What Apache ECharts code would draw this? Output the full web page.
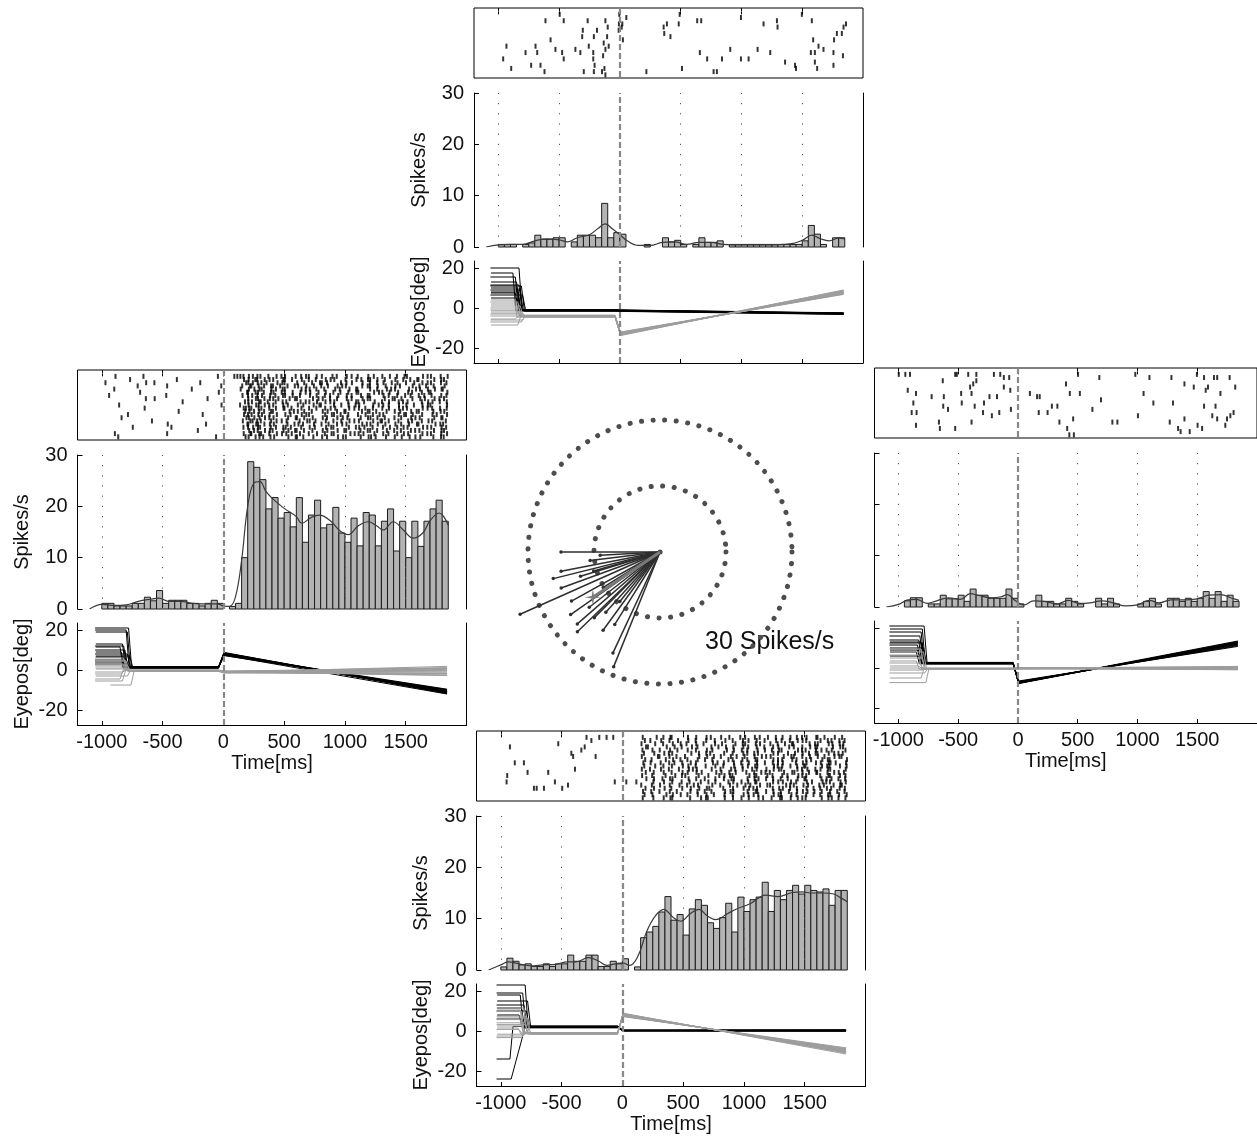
<!DOCTYPE html>
<html><head><meta charset="utf-8">
<script src="https://cdn.jsdelivr.net/npm/echarts@6/dist/echarts.min.js"></script>
<style>html,body{margin:0;padding:0;background:#fff}#c{width:1257px;height:1137px}</style>
</head><body><div id="c"></div>
<script>
// ===== DATA =====
const TIME_TICKS = [-1000, -500, 0, 500, 1000, 1500];
const RATE_TICKS_MAX = 30;
const EYE_TICKS = [-20, 0, 20];
const REF_LINES = [-1000, -500, 500, 1000, 1500];
const BIN_START = -1000, BIN_WIDTH = 50;

// PSTH bars, 50 ms bins from -1000 to 1850 ms (spikes/s)
const HIST_T = [0.5,0.5,0.5,0,0.5,0.8,2.3,1.5,1.5,1.8, 1.8,0,1.0,2.3,2.3,2.3,1.8,8.5,1.8,2.8,
  2.5,0,0,0,0.5,0,0,1.8,1.0,1.3, 0.5,0,0.5,1.8,0.9,0.9,1.2,0,0.5,0.5,
  0.5,0.5,0.5,0.5,0.5,0.5,0.5,0.5,0.5,0.5, 1.2,4.2,2.5,0.5,0,1.8,1.8];
const HIST_L = [1.1,1.1,0.6,0.6,0.6,1.1,1.1,2.3,1.6,3.6, 1.1,1.7,1.7,1.7,1.1,1.1,0.6,1.1,1.7,1.1,
  0,0.5,1.1,10,28.7,27.6,25.2,19.5,21.7,17.7, 18.8,16,21.7,13,18.3,21.2,15.8,16.5,19.8,14.8,
  13,17.7,12.3,18.8,18.3,12.3,17.1,19.5,11.3,17.1, 10,17.1,12.2,17.1,19.5,21.2,17.1];
const HIST_R = [0,1.2,1.8,1.8,0,0.6,0.6,2.3,1.6,1.6, 2.3,1.1,3.5,2.3,2.3,1.7,1.7,1.7,3.5,1.7,
  0.6,0,0,2.3,1.1,1.1,0.6,0.6,1.7,1.1, 0.6,0,0,1.7,0.6,1.7,0.6,0,0,0,
  0.6,1.1,1.7,0.6,0,1.7,1.7,1.1,1.7,1.1, 1.7,3.0,1.7,3.0,1.1,2.3,1.1];
const HIST_B = [0.6,2.3,1.7,1.0,1.2,0.7,0.7,1.2,0.7,1.2, 1.2,2.9,1.7,1.7,2.9,2.9,0.7,0.7,1.7,1.2,
  2.2,0,0.6,6.3,7.4,8.5,11.3,14.3,9.7,10.8, 6.8,11.9,13.7,12.6,9.2,8.1,10.2,13.0,7.4,14.2,
  11.4,13.7,14.2,17.1,11.4,15.5,13.7,15.5,16.5,14.8, 16.5,15.5,15.2,15.8,12.6,15.5,15.5];

// smoothed rate curves [time ms, spikes/s]
const SMOOTH_T = [[-1100,0],[-1000,0.4],[-900,0.5],[-800,0.5],[-700,1.2],[-600,1.6],[-500,1.4],[-430,1.0],[-350,1.8],[-250,2.4],[-180,3.6],[-120,4.5],[-60,3.5],[0,2.4],[60,1.2],[150,0.3],[250,0.3],[350,0.9],[450,1.0],[550,0.5],[650,0.9],[750,0.9],[850,0.5],[1000,0.4],[1200,0.4],[1400,0.6],[1500,1.3],[1580,2.3],[1650,1.6],[1720,1.2],[1800,1.7],[1850,1.6]];
const SMOOTH_L = [[-1100,0],[-1000,0.9],[-900,0.7],[-800,0.8],[-700,1.5],[-600,1.9],[-530,2.1],[-450,1.5],[-350,1.5],[-250,1.1],[-150,1.0],[-50,1.0],[0,0.6],[50,0.5],[100,2.4],[150,9.5],[200,20],[250,24.5],[300,24.8],[350,22.9],[400,21.6],[500,19.6],[600,18],[645,16.7],[720,17.8],[790,18.3],[880,17.2],[960,15.2],[1027,14.5],[1110,16.2],[1192,17],[1260,16.2],[1315,15.4],[1397,17],[1480,15.4],[1562,13.8],[1640,14.8],[1700,17.2],[1775,18.7],[1850,16.3]];
const SMOOTH_R = [[-1100,0],[-1000,0.5],[-920,1.4],[-850,1.5],[-760,0.7],[-680,1.2],[-580,1.8],[-480,1.5],[-400,2.6],[-320,2.2],[-220,1.8],[-140,2.0],[-90,2.4],[-20,1.2],[50,0.4],[130,1.2],[220,1.1],[330,0.6],[420,1.3],[520,0.7],[600,0.8],[700,1.2],[800,0.8],[900,0.2],[1000,0.4],[1100,1.3],[1180,0.8],[1280,1.4],[1400,1.4],[1500,1.6],[1600,2.3],[1700,2.4],[1780,1.8],[1850,1.3]];
const SMOOTH_B = [[-1100,0],[-1000,1.0],[-940,1.6],[-850,1.2],[-750,0.8],[-650,1.0],[-550,1.1],[-450,1.6],[-380,1.6],[-280,2.4],[-200,1.8],[-130,0.9],[-60,1.2],[0,1.4],[60,0.9],[130,2.8],[200,7.5],[270,10.5],[340,11.8],[420,10.2],[480,9.5],[560,11.0],[630,11.8],[700,10.5],[770,9.8],[860,10.9],[930,11.8],[1050,12.9],[1180,14.6],[1280,14.3],[1400,15.1],[1480,15.2],[1560,15.0],[1650,15.0],[1740,14.8],[1800,14.0],[1850,13.3]];

// sparse rasters: [spike time ms, trial]
const RASTER_T = [[-612,2],[-495,0],[-462,2],[-265,2],[-119,2],[53,1],[-305,5],[-188,5],[-100,4],[-10,5],[15,4],[-310,7],[-214,7],[-105,7],[-570,8],[-133,9],[-256,10],[-933,10],[-694,10],[-92,10],[-776,12],[-680,12],[-530,11],[-475,12],[-366,11],[-325,12],[-219,12],[-119,11],[-960,14],[-462,14],[-219,14],[-138,13],[-208,16],[-127,17],[-894,17],[-730,16],[-653,16],[-297,18],[-214,18],[-147,18],[-119,19],[-620,18],[-5,0],[-8,3],[20,3],[25,8],
  [360,4],[387,3],[365,6],[416,7],[492,0],[484,3],[636,2],[669,2],[658,12],[718,14],[840,14],[908,11],[996,1],[996,14],[1059,14],[1133,11],[1182,3],[1237,12],[1292,2],[1297,4],[1359,15],[1441,16],[1449,17],[1497,0],[1579,2],[1571,12],[1590,8],[1604,12],[1634,10],[1675,11],[1757,12],[1762,8],[1785,6],[1826,6],[1840,4],[1860,3],[1604,15],[1623,17],[1757,16],[1835,13],[218,18],[511,17],[771,18],[798,18]];
const RASTER_R = [[-997,0],[-942,0],[-903,0],[-922,5],[-853,6],[-875,9],[-889,12],[-848,12],[-853,16],[-722,7],[-661,15],[-653,17],[-629,2],[-620,7],[-625,10],[-585,11],[-525,0],[-511,0],[-525,17],[-475,6],[-470,9],[-416,0],[-374,3],[-400,4],[-388,6],[-362,10],[-348,0],[-348,2],[-388,15],[-292,12],[-284,9],[-238,7],[-201,0],[-218,13],[-175,7],[-156,12],[-148,0],[-118,4],[-118,1],[-73,1],[-64,5],[-59,11],
  [100,6],[160,7],[182,7],[174,12],[248,12],[284,10],[330,10],[347,15],[402,3],[412,17],[434,6],[462,14],[430,19],[468,19],[503,0],[518,6],[623,11],[681,1],[695,8],[790,15],[832,15],[982,0],[1004,13],[1051,6],[1100,1],[1133,9],[1270,15],[1284,1],[1297,9],[1340,17],[1361,18],[1393,3],[1393,14],[1437,18],[1471,4],[1497,0],[1503,16],[1541,17],[1557,1],[1557,10],[1571,5],[1590,4],[1640,1],[1667,1],[1653,10],[1626,13],[1667,14],[1694,6],[1735,16],[1749,14],[1771,1],[1804,12],[1818,4],[1777,13]];

// dense rasters: one string per trial, 100 ms groups from -1100 ms;
// inside a group each character is a 25 ms slot ('.' = no spike, digit d = spike at slot + 2.5*d ms)
const GROUP_T0 = -1100, GROUP_MS = 100, CHAR_MS = 25, DIGIT_MS = 2.5;
const RASTER_L = [
". . 5... . .7.. . . . . . ..2. ...6 666. 47.2 2.8. .5.1 3..8 .6.2 1.7. 4..9 .3.. 6.2. 2..7 .5.. 3.8. .1.6 4... .7.2 3..5 .8",
". . . .3.. . . . 7... . . . . ..8. 3.51 .6.2 4..7 2.6. .8.. 1.4. .7.3 5... 2..8 .4.6 3.7. .1.. 6..2 .5.8 2... .4.7 6.",
". .2.. . . ..6. .3.. . . . 4... . . ...5 27.3 5.2. .8.4 1... 3.6. .2.8 4.1. ..7. 5.3. .8.. 2.6. 7..4 .3.. 1.8. .5.2 3..6 .4",
". . . ...8 . . .5.. . . . ...3 . ..2. 82.6 .4.7 3.7. .1.5 6..3 .8.. 2.4. .6.1 3... .7.5 2.8. .4.. 6.1. ..3. 5.7. .2.. 8.",
". . 1... . . . . . .6.. . . . .7.. 4.29 6..8 .3.5 2... .7.1 4.6. .2.. 8.3. .5.7 1... 3.6. .8.2 5... .1.4 7..3 .6.8 2.",
". . . . 6... . . . . . ..5. . ...8 1.64 .3.7 5..2 2.8. .4.1 6..3 .7.. 2.5. .1.8 4... .6.2 3.7. .5.. 8.1. .3.6 2... .7",
". ..4. . . . . .2.. . . . . . ..3. 15.2 7..4 .1.6 3.8. .2.. 5.7. .4.1 .8.. 6.2. .3.5 1... 7.4. .2.8 .6.. 3.1. 5..7 .4",
". . . . ..5. .4.. . . . ..8. . . .... 2.74 .5.3 4.1. .8.6 2... .5.3 7..1 .4.. 6.2. .8.5 3... .1.7 4.6. ..2. 8.3. .5.1 6.",
". . . . . . . ..6. . . . . ...1 24.8 3.6. .2.5 7... .4.1 3.8. .6.2 5... .1.7 4.3. .8.. 2.5. .7.1 6... .3.4 8..2 .5",
". . .7.. . . . . . . . ...4 . .5.. 3.86 .6.1 4..7 .2.. 5.3. .7.6 1... 4.8. .2.5 7... .3.1 6.4. .8.. 2.7. .5.3 1... .6",
". . . . ..1. . . . . . . . ..74 52.6 5..1 .3.8 1.4. .7.. 2.6. .5.3 8... .4.1 6.7. .2.. 3.5. .8.1 4... .6.2 7..3 .5",
". . . . . . . .3.. . . . . ...2 6.18 .4.7 3... .8.2 5.6. .1.. 7.3. .4.8 2... .6.5 1.3. .7.. 4.2. .8.6 3... .1.5 7.",
". . . 6... . . . . . .2.. . . ..8. 13.5 7..2 .6.. 4.1. .8.3 2... .5.7 4.6. .1.. 3.8. .2.4 6... .7.5 1.3. .4.. 8.2. .6",
". . ..5. . . . . . . . . . ...6 4.29 .7.1 5... .3.8 2.6. .4.. 7.1. .5.3 8... .2.6 4.7. .1.. 3.5. .8.2 6... .4.7 1.",
". . . . . 5... . . . . . . ..4. 96.1 3..7 .5.2 8... .1.6 4.3. .7.. 2.8. .5.1 6... .3.7 2.4. .6.. 8.1. .3.5 7... .2",
". . . . . . .7.. . . ..3. . . ...9 2.84 .5.3 6... .1.4 7.2. .8.. 3.6. .4.1 5... .7.2 4.8. .3.. 6.5. .1.7 2... .8.4 3.",
". . . ..2. . . ..9. . . . . . ..6. 18.4 1..6 .3.7 5.2. .6.. 4.1. .8.5 2... .3.6 7.4. .1.. 5.8. .2.3 6... .7.1 4..8 .3",
". . . . . . . . ...6 . . . .... 5.13 .7.3 2..8 .4.6 1.5. .3.. 7.2. .6.8 4... .1.5 3.6. .8.. 2.4. .7.1 5... .3.8 6.",
". . 3... . . . .5.. . . . . . ..7. 92.8 4..1 .6.3 7.5. .2.. 1.8. .4.6 3... .8.2 5.1. .7.. 6.3. .2.4 8... .5.1 3..7 .6",
". . .4.. . . . . . . . .6.. . ...3 3.69 .1.5 7... .4.8 2.3. .6.. 5.1. .7.4 3... .2.8 6.1. .5.. 4.7. .3.2 8... .1.6 5."
];
const RASTER_B = [
". . . . . . . . 2... 4.8. .0.. . ..7. ...3 .5.8 2... .6.. 3..7 .1.. 5..2 ..8. 4..6 .2.9 ..5. 7..3 .4.1 6..8 2.5. .9.. 3.",
". . . . . . . . .8.. . . . ...4 .2.. 8..5 ..3. .7.. 1..6 ..4. .9.. 3..7 .5.. 2.8. ..6. 4..1 .7.3 5... .2.6 8..4 .1",
". . . . . ..9. . . . . . . ..3. ..8. .4.. 6..2 .1.. 3.7. ..5. 8... .2.6 4..9 .3.. 7..1 .5.8 2... .6.4 3..9 .1.5 7.",
". ...0 . . . . . ...6 . . . . ...8 4... ..6. .2.5 ..9. 7... .3.6 ..1. 5..8 .4.. 2.7. .6.3 ..9. 4..2 .8.5 1... .3.7 6.",
". . . . . . . ..5. . . . . ..6. .9.. 3..7 ..1. .5.. 2..8 .6.. ..4. 7..3 .1.. 5.9. .2.6 4... .8.1 3..7 .5.2 9... .4",
". . . . . . ...2 . . . . . ...1 ..5. .8.3 4... ..7. .2.6 9... .5.. 3..8 .1.4 6... .7.2 ..5. 8..3 .4.6 2..9 .7.1 5.",
". . . . . . ...8 . ...2 . . . ..4. ...7 2..5 .8.. 6... .3.9 ..1. 4..7 .6.. 2..5 .9.3 8... .1.6 4..2 .7.. 3.5. .8.4 1.",
". . . . . . . . . . . . ...5 .6.. ..3. 7..1 .4.. 8..2 .6.. ..9. 3..5 .1.8 4... .7.2 6..9 .3.. 5.1. .8.6 2... .9",
". . 6..6 . . . . . . . . . ..9. .3.. 6..4 .1.7 ..5. 2... .8.3 .4.. 7..1 .6.. 3.9. .5.2 8... .1.4 6..7 .3.9 5.2. .6",
". . . . . . . . . . . . ...2 ..8. .5.. 3..9 .7.. 1..4 ..6. .2.. 8..5 .3.7 4... .9.1 6..3 .5.8 2... .7.4 1..6 .8",
". . . . . . . 4... . . . . ..4. .1.. 7..3 ..6. .9.2 5... .4.. 3..8 .1.6 ..7. 2..4 .8.5 3... .6.1 9..5 .2.7 4... .5",
". . . 8... ...6 . . . . . . . ...7 ..3. .6.. 2..8 .5.. 4.1. ..9. 6..2 .3.. 8..4 .7.1 5... .2.9 6..3 .4.8 1..5 .7.2 9.",
". ..1. . . . . . . . . . . ..5. .8.. ..2. .4.6 7... .1.. 3..9 .6.4 2... .8.5 1..7 .4.. 6.3. .9.2 5... .1.8 3..6 .4",
". . . . . . . . . . . . ...9 ..4. .2.7 5... .8.. 3..1 ..6. .4.9 7... .2.5 8..3 .6.. 1.4. .7.9 3... .5.2 8..1 .3",
". .9.. . . . .8.. . . . . .5.. .3.. 6... ..2. .7.. 4..5 ..1. .8.. 3.6. ..9. 5..2 .4.7 1... .6.3 8..5 .2.. 7.4. .9.1 3..8 .5",
". . . . . . ..1. . . . . . ..2. .7.. 4..6 ..8. .3.5 9... .6.. 2..4 .8.. 5.1. .3.7 6... .9.2 4..6 .1.. 8.3. .5.7 2.",
". . . ..98 ..2. . 2... . . . . . ...6 ..4. .9.. 1..7 ..5. .3.8 6... .2.. 4..9 .7.1 3... .5.6 8..2 .4.. 6.9. .1.3 7..5 .2",
". . . . . . . . . . . . ..8. .5.. 2..6 .9.. ..4. 7..1 .3.. .8.6 5... .2.9 4..3 .7.. 1.8. .5.4 9..2 .6.. 3.7. .1",
". . . . . . . . . . . . ...3 .9.. ..5. 6..2 .4.. 8..7 ..1. .6.. 3..9 .5.2 7... .8.4 2..6 .3.. 5.9. .1.7 4..3 .8",
". . . . . . . . . . . . ..7. ..2. .6.8 4... ..3. .9.5 1... .7.. 4..2 .6.. 8.3. .1.9 5..4 .7.2 3... .6.8 9..1 .4"
];

// eye traces: [start ms, start deg, leave-start ms, reach-fixation ms, fixation deg, deg just after onset, deg at end]
const EYE_ONSET = -40, EYE_PEAK = 5, EYE_END = 1840;
const EYE_T_BLACK = [[-1065,20,-830,-805,-1.0,-1.2,-2.6],[-1060,17.5,-880,-855,-1.3,-1.4,-2.8],[-1065,15.5,-860,-835,-0.8,-1.0,-2.4],[-1060,13,-850,-825,-1.5,-1.6,-3.0],[-1065,11.5,-830,-805,-1.2,-1.3,-2.7],[-1060,10,-840,-815,-1.0,-1.1,-2.9],[-1065,9,-820,-795,-1.4,-1.5,-3.1],[-1060,7.5,-860,-835,-1.1,-1.2,-2.5],[-1065,6.5,-800,-775,-1.3,-1.3,-2.8],[-1060,5,-850,-825,-0.9,-1.0,-2.6],[-1065,11,-810,-785,-1.6,-1.7,-3.2],[-1060,8,-840,-815,-1.2,-1.2,-2.9]];
const EYE_T_GRAY = [[-1065,3,-840,-815,-3.8,-12.5,7.5],[-1060,1,-820,-795,-4.2,-13.0,8.0],[-1065,-1,-850,-825,-3.6,-12.0,7.0],[-1060,-2.5,-800,-775,-4.5,-13.5,8.5],[-1065,-4,-830,-805,-4.0,-12.8,7.8],[-1060,-5.5,-860,-835,-3.9,-13.2,8.8],[-1065,-7,-810,-785,-4.4,-12.2,6.8],[-1060,-8.5,-840,-815,-4.1,-13.8,9.0],[-1065,0,-830,-805,-3.7,-12.6,7.2],[-1060,2,-850,-825,-4.3,-13.1,8.2],[-1065,-3,-820,-795,-4.0,-12.9,7.6],[-1060,4,-870,-845,-4.6,-13.4,8.6],[-1065,-6,-800,-775,-3.8,-12.4,7.4],[-1060,-1.5,-840,-815,-4.2,-13.0,8.0]];
const EYE_L_BLACK = [[-1055,21,-780,-755,1.3,8.0,-10.8],[-1055,20,-800,-775,1.0,7.5,-10.2],[-1050,13,-830,-805,1.5,8.5,-11.5],[-1055,10,-810,-785,1.2,7.8,-10.5],[-1050,9,-840,-815,1.6,8.8,-11.8],[-1055,8,-790,-765,1.1,7.2,-9.8],[-1050,6.5,-820,-795,1.4,8.2,-11.2],[-1055,5,-800,-775,1.3,7.9,-10.9],[-1050,11.5,-850,-825,1.0,7.6,-10.0],[-1055,4,-830,-805,1.5,8.4,-11.4],[-1050,7,-770,-745,1.2,8.1,-10.6],[-1055,3,-810,-785,1.4,7.4,-12.0],[-1050,19,-790,-765,1.1,8.6,-11.0],[-1055,12,-820,-795,1.3,7.7,-9.6]];
const EYE_L_GRAY = [[-1055,6,-820,-795,-0.3,-0.8,1.2],[-1050,4.5,-800,-775,-0.6,-1.2,-0.5],[-1055,2,-840,-815,0.0,-0.5,0.8],[-1050,0.5,-810,-785,-0.5,-1.0,-1.5],[-1055,-1,-830,-805,-0.2,-0.9,-2.5],[-1050,-3,-790,-765,-0.4,-1.3,0.3],[-1055,-4.5,-850,-825,-0.1,-0.6,-1.0],[-930,-7.5,-760,-735,-0.7,-1.5,-2.0],[-1055,3,-820,-795,-0.3,-1.1,1.8],[-1050,1,-800,-775,-0.5,-0.7,-0.2],[-1055,-2,-840,-815,-0.2,-1.0,-1.8],[-1050,5,-810,-785,-0.6,-1.4,0.6],[-1055,-5.5,-830,-805,-0.3,-0.8,-2.8],[-1050,2.5,-790,-765,-0.4,-1.2,1.0]];
const EYE_R_BLACK = [[-1075,21,-785,-760,2.4,-7.0,12.0],[-1070,19.5,-800,-775,2.2,-7.5,12.8],[-1075,14,-830,-805,2.6,-6.8,11.5],[-1070,13,-810,-785,2.0,-7.8,13.2],[-1075,11.5,-840,-815,2.5,-7.2,12.4],[-1070,10,-790,-765,2.3,-6.5,10.8],[-1075,16,-820,-795,2.8,-7.6,13.5],[-1070,8,-850,-825,2.1,-7.0,11.9],[-1075,12.5,-800,-775,2.4,-7.4,12.6],[-1070,6,-830,-805,2.6,-6.9,11.2],[-1075,18,-810,-785,2.2,-7.3,12.2],[-1070,9,-840,-815,2.5,-7.7,13.0]];
const EYE_R_GRAY = [[-1075,9.5,-810,-785,-0.3,-0.2,0.3],[-1070,8,-790,-765,-0.5,-0.4,-0.4],[-1075,6.5,-830,-805,-0.1,0.1,0.6],[-1070,5,-800,-775,-0.4,-0.3,-0.8],[-1075,2.5,-820,-795,-0.2,0.0,0.1],[-1070,0,-840,-815,-0.6,-0.5,-0.2],[-1075,-2.5,-780,-755,-0.3,-0.2,0.8],[-1070,-5,-810,-785,-0.1,0.2,-0.5],[-1075,-7.3,-770,-745,-0.4,-0.3,0.4],[-1070,3.5,-850,-825,-0.5,-0.1,-0.9],[-1075,-1,-800,-775,-0.2,-0.4,0.2],[-1070,1,-830,-805,-0.3,0.1,-0.3]];
const EYE_B_BLACK = [[-1035,23,-800,-775,2.0,0.3,0.3],[-1035,19,-820,-795,1.8,0.1,0.0],[-1030,18,-840,-815,2.2,0.4,0.5],[-1035,13,-810,-785,2.5,0.2,0.2],[-1030,11.5,-830,-805,1.6,0.0,-0.1],[-1035,10,-790,-765,2.1,0.3,0.4],[-1030,8,-850,-825,1.9,0.1,0.1],[-1035,-14,-925,-900,2.3,0.2,0.3],[-1035,-24,-915,-800,2.0,0.3,0.2],[-1030,15,-780,-755,2.4,0.5,0.6],[-1035,6,-820,-795,1.7,0.2,0.1]];
const EYE_B_GRAY = [[-1035,11.5,-810,-785,-1.2,8.0,-9.8],[-1030,9.8,-830,-805,-0.9,7.5,-9.0],[-1035,7.4,-790,-765,-1.4,8.6,-10.8],[-1030,5.7,-840,-815,-1.0,7.8,-9.5],[-1035,4.1,-800,-775,-1.5,8.9,-11.5],[-1030,2.5,-820,-795,-1.1,7.2,-8.4],[-1035,0.8,-850,-825,-1.3,8.3,-10.3],[-1030,-1.6,-810,-785,-0.8,7.6,-9.2],[-1035,-3.3,-830,-805,-1.2,8.1,-10.0],[-1030,6.5,-780,-755,-1.6,8.7,-11.0],[-1035,3.2,-800,-775,-1.0,7.4,-8.8],[-1030,10.5,-840,-815,-1.3,8.4,-10.6],[-1035,-2.5,-820,-795,-1.1,7.9,-9.6],[-1030,1.5,-860,-835,-1.4,8.2,-10.2]];

// polar tuning: [direction deg (counter-clockwise from east), rate spikes/s]
const TUNING = [[180,22.5],[183,13.6],[191,22.9],[194,25.0],[200,23.9],[204,34.8],[215,24.8],[221,24.9],[224,26.1],[238,19.4],[228,18.4],[245,25.3],[248,28.1],[197,18.9],[196,15.7],[212,15.2],[218,20.4],[231,14.5],[225,21.1],[187,16.0],[209,23.0],[234,22.0]];
const TUNING_MEAN = [214, 18.4];
const POLAR_RINGS = 15, POLAR_MAX = 35;

// ===== BUILD =====
const FONT = "'Liberation Sans', Arial, sans-serif";
const TXT = {fontFamily: FONT, fontSize: 20, color: '#111'};
const plain = v => String(v);

function parseRows(rows){
  const pts = [];
  rows.forEach((row, r) => {
    row.trim().split(/\s+/).forEach((grp, g) => {
      for (let j = 0; j < grp.length; j++) {
        const d = grp.charCodeAt(j) - 48;
        if (d >= 0 && d <= 9) pts.push([GROUP_T0 + g * GROUP_MS + j * CHAR_MS + d * DIGIT_MS, r]);
      }
    });
  });
  return pts;
}
function tracePts(t){
  const [t0, v0, tD, tF, vF, vP, vE] = t;
  return [[t0, v0], [tD, v0], [tF, vF], [EYE_ONSET, vF], [EYE_PEAK, vP], [EYE_END, vE]];
}

const PANELS = [
  {left: 474, top: 8, raster: RASTER_T, hist: HIST_T, smooth: SMOOTH_T, black: EYE_T_BLACK, gray: EYE_T_GRAY, yLab: true, xLab: false},
  {left: 77.5, top: 370, raster: parseRows(RASTER_L), hist: HIST_L, smooth: SMOOTH_L, black: EYE_L_BLACK, gray: EYE_L_GRAY, yLab: true, xLab: true},
  {left: 874.5, top: 368, raster: RASTER_R, hist: HIST_R, smooth: SMOOTH_R, black: EYE_R_BLACK, gray: EYE_R_GRAY, yLab: false, xLab: true},
  {left: 476.5, top: 731, raster: parseRows(RASTER_B), hist: HIST_B, smooth: SMOOTH_B, black: EYE_B_BLACK, gray: EYE_B_GRAY, yLab: true, xLab: true}
];
const W = 389, RH = 70, HO = 85, HH = 154, EO = 253, EH = 102;
const XMIN = -1200, XMAX = 2000;

const grid = [], xAxis = [], yAxis = [], series = [];
const blackLine = {color: '#000', width: 1};
const zeroStyle = {color: '#888', width: 2.2, type: [6, 3]};
const refStyle = {color: '#555', width: 1, type: [1.2, 9]};
function vlines(vals, style){
  return {silent: true, symbol: ['none', 'none'], label: {show: false}, animation: false, lineStyle: style,
    emphasis: {disabled: true}, data: vals.map(v => ({xAxis: v}))};
}

PANELS.forEach(p => {
  // raster
  const gR = grid.length;
  grid.push({left: p.left, top: p.top, width: W, height: RH, show: true, borderColor: '#000', borderWidth: 1, backgroundColor: 'transparent'});
  const xR = xAxis.length;
  ['bottom', 'top'].forEach(pos => xAxis.push({gridIndex: gR, type: 'value', min: XMIN, max: XMAX, position: pos,
    axisLine: {show: false}, axisTick: {show: true, inside: true, length: 3, customValues: TIME_TICKS, lineStyle: blackLine},
    axisLabel: {show: false}, splitLine: {show: false}}));
  const yR = yAxis.length;
  yAxis.push({gridIndex: gR, type: 'value', min: -2, max: 20, inverse: true, show: false});
  series.push({type: 'scatter', xAxisIndex: xR, yAxisIndex: yR, data: p.raster, symbol: 'rect', symbolSize: [2, 5],
    itemStyle: {color: '#000'}, silent: true, markLine: vlines([0], zeroStyle)});

  // PSTH
  const gH = grid.length;
  grid.push({left: p.left, top: p.top + HO, width: W, height: HH});
  const xH = xAxis.length;
  xAxis.push({gridIndex: gH, type: 'value', min: XMIN, max: XMAX, show: false});
  const yH = yAxis.length;
  yAxis.push({gridIndex: gH, type: 'value', min: 0, max: RATE_TICKS_MAX, interval: 10, position: 'left',
    axisLine: {show: true, onZero: false, lineStyle: blackLine},
    axisTick: {show: true, inside: true, length: 5, lineStyle: blackLine},
    axisLabel: Object.assign({show: p.yLab, margin: 10, formatter: plain}, TXT), splitLine: {show: false},
    name: p.yLab ? 'Spikes/s' : '', nameLocation: 'middle', nameGap: 45, nameRotate: 90, nameTextStyle: TXT});
  yAxis.push({gridIndex: gH, type: 'value', min: 0, max: RATE_TICKS_MAX, position: 'right',
    axisLine: {show: true, onZero: false, lineStyle: blackLine}, axisTick: {show: false}, axisLabel: {show: false}, splitLine: {show: false}});
  series.push({type: 'custom', xAxisIndex: xH, yAxisIndex: yH, silent: true,
    data: p.hist.map((v, i) => [BIN_START + i * BIN_WIDTH, v]),
    encode: {x: 0, y: 1},
    renderItem: (params, api) => {
      const x = api.value(0), v = api.value(1);
      if (!v) return null;
      const a = api.coord([x, 0]), b = api.coord([x + BIN_WIDTH, v]);
      return {type: 'rect', shape: {x: a[0], y: b[1], width: b[0] - a[0], height: a[1] - b[1]},
        style: {fill: '#b3b3b3', stroke: '#1c1c1c', lineWidth: 1}};
    }});
  series.push({type: 'line', xAxisIndex: xH, yAxisIndex: yH, data: p.smooth, smooth: 0.4, showSymbol: false, silent: true,
    lineStyle: {color: '#3a3a3a', width: 1.2}, z: 3,
    markLine: {silent: true, symbol: ['none', 'none'], label: {show: false}, animation: false,
      data: REF_LINES.map(v => ({xAxis: v, lineStyle: refStyle})).concat([{xAxis: 0, lineStyle: zeroStyle}])}});

  // eye position
  const gE = grid.length;
  grid.push({left: p.left, top: p.top + EO, width: W, height: EH});
  const xE = xAxis.length;
  xAxis.push({gridIndex: gE, type: 'value', min: XMIN, max: XMAX, position: 'bottom',
    axisLine: {show: true, onZero: false, lineStyle: blackLine},
    axisTick: {show: true, inside: true, length: 4, customValues: TIME_TICKS, lineStyle: blackLine},
    axisLabel: Object.assign({show: p.xLab, margin: 7, customValues: TIME_TICKS, formatter: plain}, TXT), splitLine: {show: false},
    name: p.xLab ? 'Time[ms]' : '', nameLocation: 'middle', nameGap: 28, nameTextStyle: TXT});
  const yE = yAxis.length;
  yAxis.push({gridIndex: gE, type: 'value', min: -27.5, max: 23.5, position: 'left',
    axisLine: {show: true, onZero: false, lineStyle: blackLine},
    axisTick: {show: true, inside: true, length: 5, customValues: EYE_TICKS, lineStyle: blackLine},
    axisLabel: Object.assign({show: p.yLab, margin: 10, customValues: EYE_TICKS, formatter: plain}, TXT), splitLine: {show: false},
    name: p.yLab ? 'Eyepos[deg]' : '', nameLocation: 'middle', nameGap: 45, nameRotate: 90, nameTextStyle: TXT});
  yAxis.push({gridIndex: gE, type: 'value', min: -27.5, max: 23.5, position: 'right',
    axisLine: {show: true, onZero: false, lineStyle: blackLine}, axisTick: {show: false}, axisLabel: {show: false}, splitLine: {show: false}});
  p.black.forEach(t => series.push({type: 'line', xAxisIndex: xE, yAxisIndex: yE, data: tracePts(t), showSymbol: false,
    silent: true, lineStyle: {color: '#000', width: 1}, z: 2}));
  p.gray.forEach((t, i) => series.push({type: 'line', xAxisIndex: xE, yAxisIndex: yE, data: tracePts(t), showSymbol: false,
    silent: true, lineStyle: {color: '#9d9d9d', width: 1}, z: 2,
    markLine: i === p.gray.length - 1 ? vlines([0], zeroStyle) : undefined}));
});

// polar tuning plot
TUNING.forEach(([ang, rate]) => series.push({type: 'line', coordinateSystem: 'polar', silent: true, clip: false,
  data: [{value: [0, ang], symbolSize: 0}, {value: [rate, ang]}], symbol: 'circle', symbolSize: 3.5, showSymbol: true,
  lineStyle: {color: '#2e2e2e', width: 1.5}, itemStyle: {color: '#2e2e2e'}, z: 4}));
series.push({type: 'line', coordinateSystem: 'polar', silent: true, clip: false,
  data: [{value: [0, TUNING_MEAN[0]], symbolSize: 0}, {value: [TUNING_MEAN[1], TUNING_MEAN[0]]}],
  symbol: 'path://M0,-10L1.5,-1.5L10,0L1.5,1.5L0,10L-1.5,1.5L-10,0L-1.5,-1.5Z', symbolSize: 16, showSymbol: true,
  lineStyle: {color: '#7a7a7a', width: 3}, itemStyle: {color: '#7a7a7a'}, z: 5});

const DOT = '#4d4d4d';
const option = {
  animation: false,
  backgroundColor: '#fff',
  textStyle: {fontFamily: FONT},
  grid, xAxis, yAxis, series,
  polar: {center: [660, 552], radius: 132 * POLAR_MAX / 30},
  angleAxis: {type: 'value', min: 0, max: 360, startAngle: 0, clockwise: false,
    axisLine: {show: false}, axisTick: {show: false}, axisLabel: {show: false}, splitLine: {show: false}},
  radiusAxis: {type: 'value', min: 0, max: POLAR_MAX, interval: POLAR_RINGS,
    axisLine: {show: false}, axisTick: {show: false}, axisLabel: {show: false},
    splitLine: {show: true, lineStyle: {color: [DOT, DOT, DOT, 'rgba(0,0,0,0)'], width: 5, type: [0.1, 11.5], cap: 'round'}}},
  graphic: [{type: 'text', left: 705, top: 630, silent: true,
    style: {text: '30 Spikes/s', font: "25px 'Liberation Sans', Arial, sans-serif", fill: '#111'}}]
};
const chart = echarts.init(document.getElementById('c'), null, {renderer: 'canvas'});
chart.setOption(option);
</script>
</body></html>
